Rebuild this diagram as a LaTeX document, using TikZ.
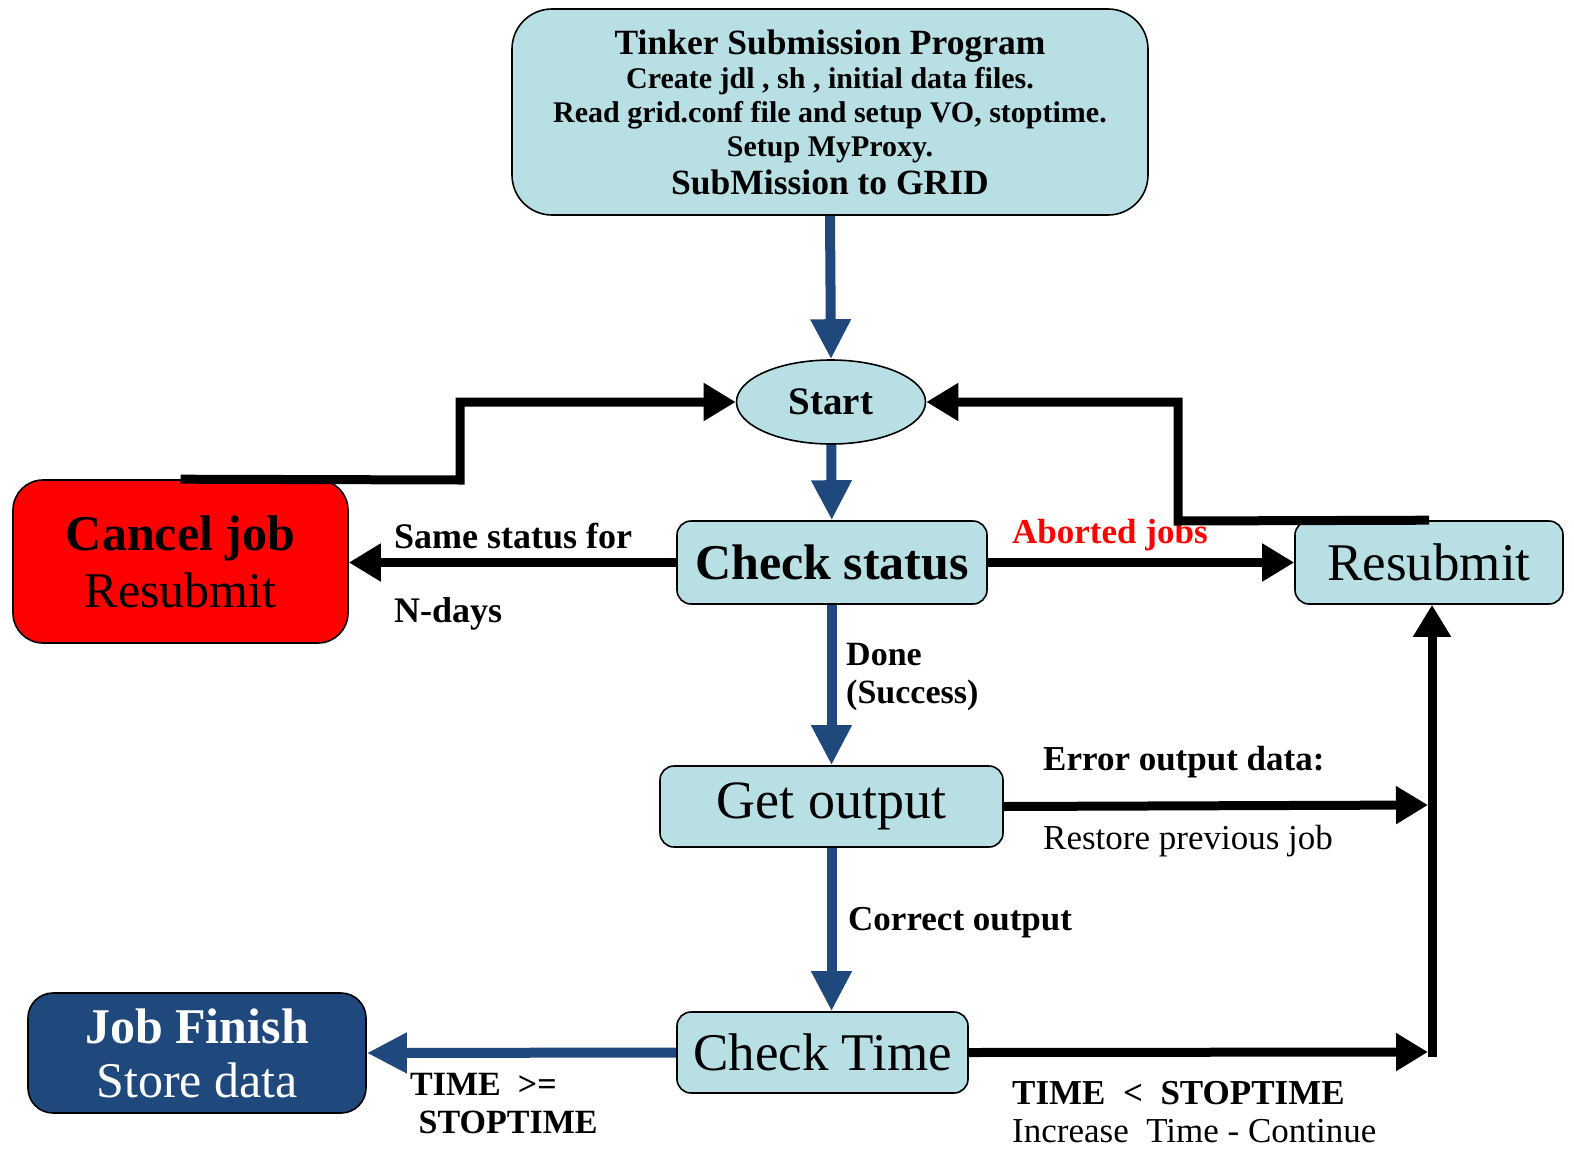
\documentclass[tikz,border=0pt]{standalone}
\usepackage{fontspec}
\setmainfont{Liberation Serif}
\usepackage{tikz}
\usetikzlibrary{shapes.geometric, arrows.meta, calc}
\definecolor{boxblue}{RGB}{184,223,227}
\definecolor{flowblue}{RGB}{31,73,125}
\definecolor{cancelred}{RGB}{255,0,0}
\tikzstyle{process} = [rectangle, rounded corners=14pt, draw=black, line width=1.6pt, fill=boxblue, text centered, inner sep=0pt, font=\fontsize{52}{57}\selectfont]
\tikzstyle{terminal} = [ellipse, draw=black, line width=1.6pt, fill=boxblue, inner sep=0pt, font=\fontsize{39}{40}\selectfont\bfseries]
\tikzstyle{blueflow} = [line width=10pt, draw=flowblue, -{Triangle[length=40pt,width=38pt]}]
\tikzstyle{blackflow} = [line width=9pt, -{Triangle[length=32pt,width=36pt]}]
\tikzstyle{note} = [anchor=west, inner sep=0pt, font=\fontsize{35}{38}\selectfont\bfseries]

\begin{document}
\begin{tikzpicture}[x=1pt, y=-1pt]
\useasboundingbox (0,0) rectangle (1574,1151);

% Main flow
\node (tinker) [process, rounded corners=40pt, minimum width=636pt, minimum height=206pt, align=center, font=\fontsize{30}{34}\selectfont\bfseries] at (830,112)
  {\fontsize{35.5}{34}\selectfont Tinker Submission Program\\
   \fontsize{30}{34}\selectfont Create jdl , sh , initial data files.\\
   \fontsize{30}{34}\selectfont Read grid.conf file and setup VO, stoptime.\\
   \fontsize{30}{34}\selectfont Setup MyProxy.\\[4pt]
   \fontsize{35.5}{34}\selectfont SubMission to GRID};
\node (start) [terminal, minimum width=189pt, minimum height=84pt] at (831,402) {Start};
\node (check) [process, minimum width=310pt, minimum height=83pt, font=\fontsize{50}{57}\selectfont\bfseries] at (832,562.5) {Check status};
\node (resubmit) [process, minimum width=268pt, minimum height=83pt, font=\fontsize{53}{57}\selectfont] at (1429,562.5) {Resubmit};
\node (cancel) [process, rounded corners=30pt, fill=cancelred, minimum width=335pt, minimum height=163pt, align=center, font=\fontsize{50}{57}\selectfont] at (180.5,561.5) {{\bfseries Cancel job}\\Resubmit};
\node (getout) [process, minimum width=343pt, minimum height=81pt, font=\fontsize{54}{57}\selectfont] at (831.5,806.5) {Get output};
\node (checktime) [process, minimum width=291pt, minimum height=81pt, font=\fontsize{53}{57}\selectfont] at (822.5,1052.5) {Check Time};
\node (finish) [process, rounded corners=25pt, fill=flowblue, text=white, minimum width=338pt, minimum height=120pt, align=center, font=\fontsize{50}{54}\selectfont] at (197,1053) {{\bfseries Job Finish}\\Store data};

% Bends and joins
\coordinate (cancelbend) at (460,480);
\coordinate (resubbend) at (1178,521);
\coordinate (errorjoin) at (1428,805);
\coordinate (timejoin) at (1428,1052);
\coordinate (rightbottom) at (1432,1057);

% Labels
\node (samestatus) [note, font=\fontsize{36}{38}\selectfont\bfseries] at (394,536) {Same status for};
\node (ndays) [note, font=\fontsize{36}{38}\selectfont\bfseries] at (394,614) {N-days};
\node (aborted) [note, text=red] at (1012,535) {Aborted jobs};
\node (done) [note, align=left, font=\fontsize{34}{38}\selectfont\bfseries] at (846,677) {Done\\(Success)};
\node (errordata) [note] at (1043,762) {Error output data:};
\node (restore) [note, font=\fontsize{35}{38}\selectfont] at (1043,841) {Restore previous job};
\node (correct) [note] at (848,923) {Correct output};
\node (lessthan) [note, align=left] at (1012,1112) {TIME \ <\ \ STOPTIME\\{\mdseries Increase \ Time - Continue}};
\node (geqtime) [note, align=left, font=\fontsize{34}{38}\selectfont\bfseries] at (410,1104) {TIME \ >=\\ \ STOPTIME};

% Arrows
\draw [blueflow] (tinker.south) -- (start.north);
\draw [blueflow] (start) -- (check);
\draw [blueflow] (getout.north |- check.south) -- (getout.north);
\draw [blueflow] (getout.south) -- (getout.south |- checktime.north);
\draw [blueflow] (checktime.west) -- (finish.east);
\draw [blackflow] (check.west) -- (check.west -| cancel.east);
\draw [blackflow] (check.east) -- (resubmit.west);
\draw [blackflow] (cancel.north) -- (cancelbend) |- (start.west);
\draw [blackflow] (resubmit.north) -- (resubbend) |- (start.east);
\draw [blackflow] (rightbottom) -- (rightbottom |- resubmit.south);
\draw [blackflow] (getout.east) -- (errorjoin);
\draw [blackflow] (checktime.east) -- (timejoin);

\end{tikzpicture}
\end{document}
